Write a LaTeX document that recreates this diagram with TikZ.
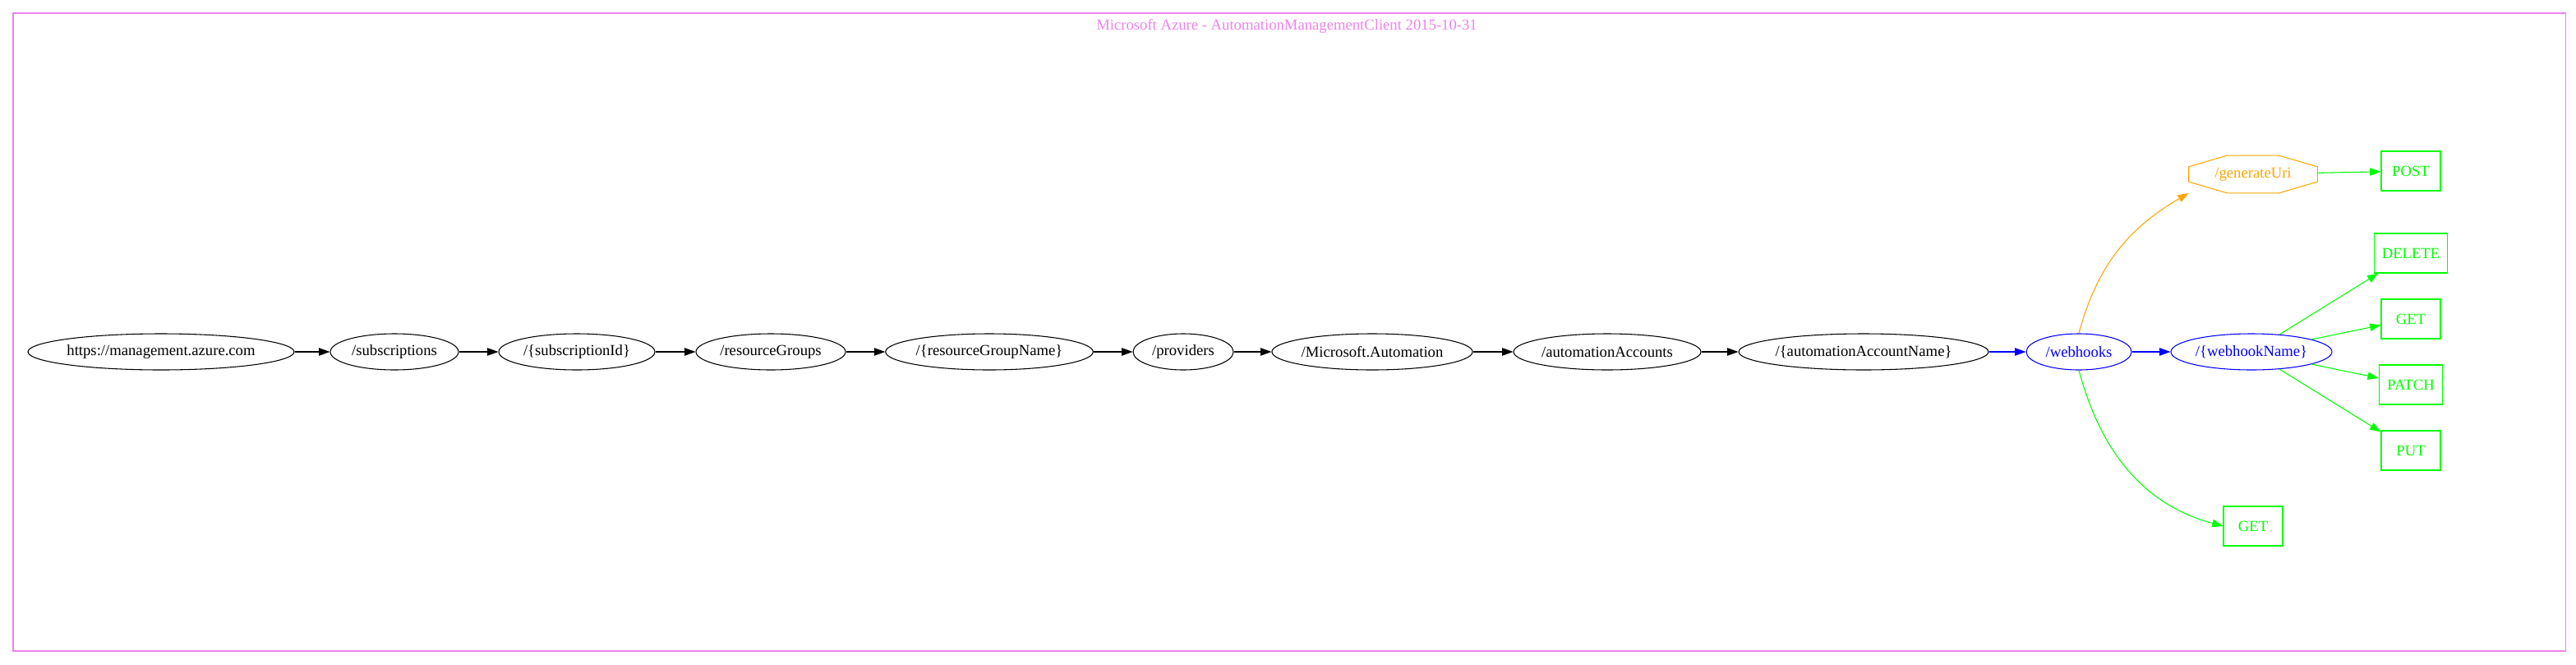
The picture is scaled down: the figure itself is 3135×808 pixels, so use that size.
\documentclass[tikz,border=0pt]{standalone}
\usepackage{fontspec}
\setmainfont{Liberation Serif}
\usetikzlibrary{arrows.meta, positioning, shapes.geometric, calc}
\definecolor{gvviolet}{RGB}{238,130,238}
\definecolor{gvgreen}{RGB}{0,255,0}
\definecolor{gvorange}{RGB}{255,165,0}
\definecolor{gvblue}{RGB}{0,0,255}

\begin{document}
\begin{tikzpicture}[
      x=0.75pt, y=-0.75pt,
      font=\fontsize{14}{16}\selectfont,
      seg/.style={draw, ellipse, line width=0.8pt, inner sep=0pt, minimum height=33pt},
      hook/.style={seg, draw=gvblue, text=gvblue},
      verb/.style={draw=gvgreen, text=gvgreen, line width=0.8pt, minimum width=54pt,
                   minimum height=36pt, inner sep=0pt},
      link/.style={-{Triangle[length=10pt,width=7pt]}, line width=0.8pt},
    ]
    % page size and cluster frame
    \useasboundingbox (0,0) rectangle (3135,808);
    \draw[gvviolet, line width=0.8pt] (16,16) rectangle (3122,792);
    \node[text=gvviolet] (title) at (1566,32)
      {Microsoft Azure - AutomationManagementClient 2015-10-31};

    % --- main path row ---
    \def\yrow{428}
    \foreach \name/\txt/\x/\w in {
        url/{https://management.azure.com}/196/237,
        subs/{/subscriptions}/480/117,
        subid/{/\{subscriptionId\}}/702/142.5,
        rg/{/resourceGroups}/938/136.5,
        rgname/{/\{resourceGroupName\}}/1204/189,
        prov/{/providers}/1440/91.5,
        msauto/{/Microsoft.Automation}/1670/183,
        aa/{/automationAccounts}/1956/171,
        aaname/{/\{automationAccountName\}}/2268/225} {
      \node[seg, minimum width=\w pt] (\name) at (\x,\yrow) {\txt};
    }
    \node[hook, minimum width=96pt]  (webhooks) at (2530,\yrow) {/webhooks};
    \node[hook, minimum width=147pt] (whname)   at (2740,\yrow) {/\{webhookName\}};

    % --- generateUri (octagon drawn on a plain node) ---
    \node[minimum width=117pt, minimum height=34pt, inner sep=0pt, text=gvorange]
      (gen) at (2742,212) {/generateUri};
    \draw[gvorange, line width=0.8pt]
      ($(gen.north west)!0.3!(gen.north east)$) -- ($(gen.north west)!0.7!(gen.north east)$)
      -- ($(gen.north east)!0.3!(gen.south east)$) -- ($(gen.north east)!0.7!(gen.south east)$)
      -- ($(gen.south east)!0.3!(gen.south west)$) -- ($(gen.south east)!0.7!(gen.south west)$)
      -- ($(gen.south west)!0.3!(gen.north west)$) -- ($(gen.south west)!0.7!(gen.north west)$)
      -- cycle;

    % --- operations ---
    \node[verb] (post)   at (2934,208) {POST};
    \node[verb, minimum width=67pt] (delete) at (2934,308) {DELETE};
    \node[verb] (get)    at (2934,388) {GET};
    \node[verb, minimum width=58pt] (patch)  at (2934,468) {PATCH};
    \node[verb] (put)    at (2934,548) {PUT};
    \node[verb] (list)   at (2742,640) {GET};

    % --- edges ---
    \foreach \a/\b in {url/subs, subs/subid, subid/rg, rg/rgname, rgname/prov,
                       prov/msauto, msauto/aa, aa/aaname} {
      \draw[link] (\a) -- (\b);
    }
    \draw[link, gvblue] (aaname) -- (webhooks);
    \draw[link, gvblue] (webhooks) -- (whname);
    \draw[link, gvorange] (webhooks.north) to[out=75,in=210] (gen.south west);
    \draw[link, gvgreen] (webhooks.south) to[out=-75,in=165] (list.west);
    \draw[link, gvgreen] (gen) -- (post);
    \foreach \op in {delete, get, patch, put} {
      \draw[link, gvgreen] (whname) -- (\op);
    }
  \end{tikzpicture}
\end{document}
